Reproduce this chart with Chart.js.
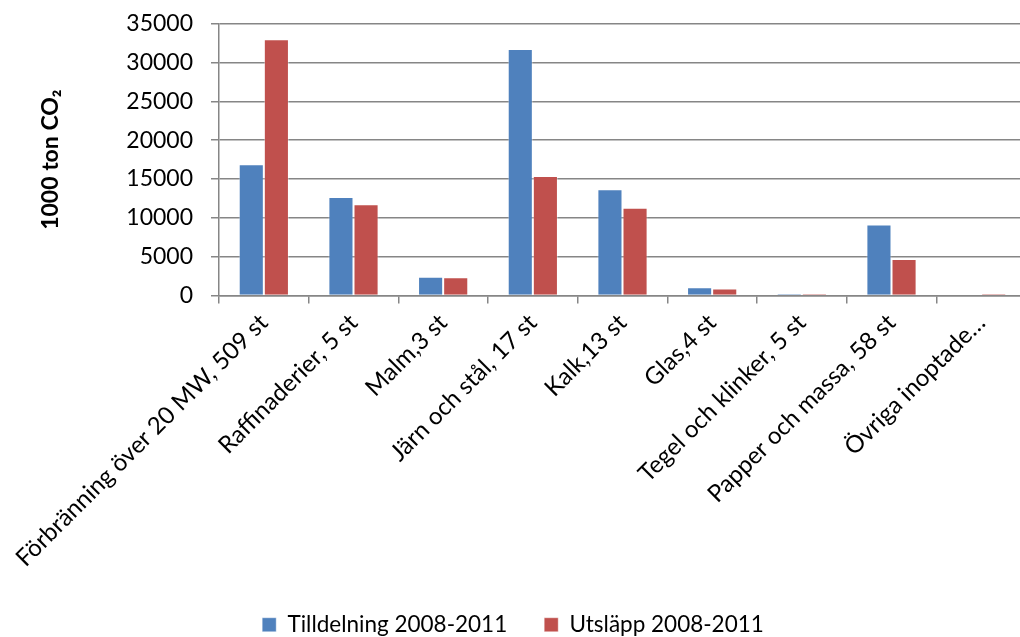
<!DOCTYPE html>
<html>
<head>
<meta charset="utf-8">
<script src="https://cdn.jsdelivr.net/npm/chart.js@4.4.1/dist/chart.umd.min.js"></script>
<style>
  html, body { margin: 0; padding: 0; background: #fff; overflow: hidden; }
  #wrap { width: 1030px; height: 654px; margin-top: -8px; }
</style>
</head>
<body>
<div id="wrap"><canvas id="chart"></canvas></div>
<script>
// categories and values (1000 ton CO2)
var categories = [
  'Förbränning över 20 MW, 509 st',
  'Raffinaderier, 5 st',
  'Malm,3 st',
  'Järn och stål, 17 st',
  'Kalk,13 st',
  'Glas,4 st',
  'Tegel och klinker, 5 st',
  'Papper och massa, 58 st',
  'Övriga inoptade…'
];
var tilldelning = [16900, 12700, 2400, 31750, 13700, 1050, 200, 9150, 0];
var utslapp = [33000, 11750, 2350, 15400, 11300, 900, 200, 4700, 200];
var yTicks = [0, 5000, 10000, 15000, 20000, 25000, 30000, 35000];

var font = 'Lato, "Open Sans", sans-serif';
var gridColor = '#868686';

new Chart(document.getElementById('chart'), {
  type: 'bar',
  data: {
    labels: categories,
    datasets: [{
      label: 'Tilldelning 2008-2011',
      data: tilldelning,
      backgroundColor: '#4F81BD',
      borderColor: 'rgba(255,255,255,0.4)',
      borderWidth: 1,
      categoryPercentage: 0.56,
      barPercentage: 1.0
    }, {
      label: 'Utsläpp 2008-2011',
      data: utslapp,
      backgroundColor: '#C0504D',
      borderColor: 'rgba(255,255,255,0.4)',
      borderWidth: 1,
      categoryPercentage: 0.56,
      barPercentage: 1.0
    }]
  },
  options: {
    responsive: true,
    maintainAspectRatio: false,
    animation: false,
    layout: { padding: { top: 15, right: 4, left: 0, bottom: 0 } },
    plugins: {
      tooltip: { enabled: false },
      legend: {
        position: 'bottom',
        labels: {
          color: '#000',
          font: { family: font, size: 22.5 },
          boxWidth: 14,
          boxHeight: 14,
          padding: 37
        }
      }
    },
    scales: {
      x: {
        grid: {
          display: true,
          drawOnChartArea: false,
          color: gridColor,
          lineWidth: 1.5,
          tickLength: 8,
          offset: true
        },
        border: { color: gridColor, width: 1.5 },
        ticks: {
          color: '#000',
          font: { family: font, size: 24 },
          minRotation: 45,
          maxRotation: 45,
          autoSkip: false,
          padding: 5
        },
        afterFit: function(s) { s.height = 281; }
      },
      y: {
        min: 0,
        max: 35000,
        afterBuildTicks: function(s) {
          s.ticks = yTicks.map(function(v) { return { value: v }; });
        },
        grid: {
          color: gridColor,
          lineWidth: 1.5,
          tickLength: 8
        },
        border: { color: gridColor, width: 1.5 },
        ticks: {
          color: '#000',
          font: { family: font, size: 23 },
          padding: 18,
          callback: function(v) { return String(v); }
        },
        title: {
          display: true,
          text: '1000 ton CO₂',
          color: '#000',
          font: { family: font, size: 23, weight: 'bold' },
          padding: { top: 37, bottom: 0 }
        },
        afterFit: function(s) { s.width = 219; }
      }
    }
  }
});
</script>
</body>
</html>
